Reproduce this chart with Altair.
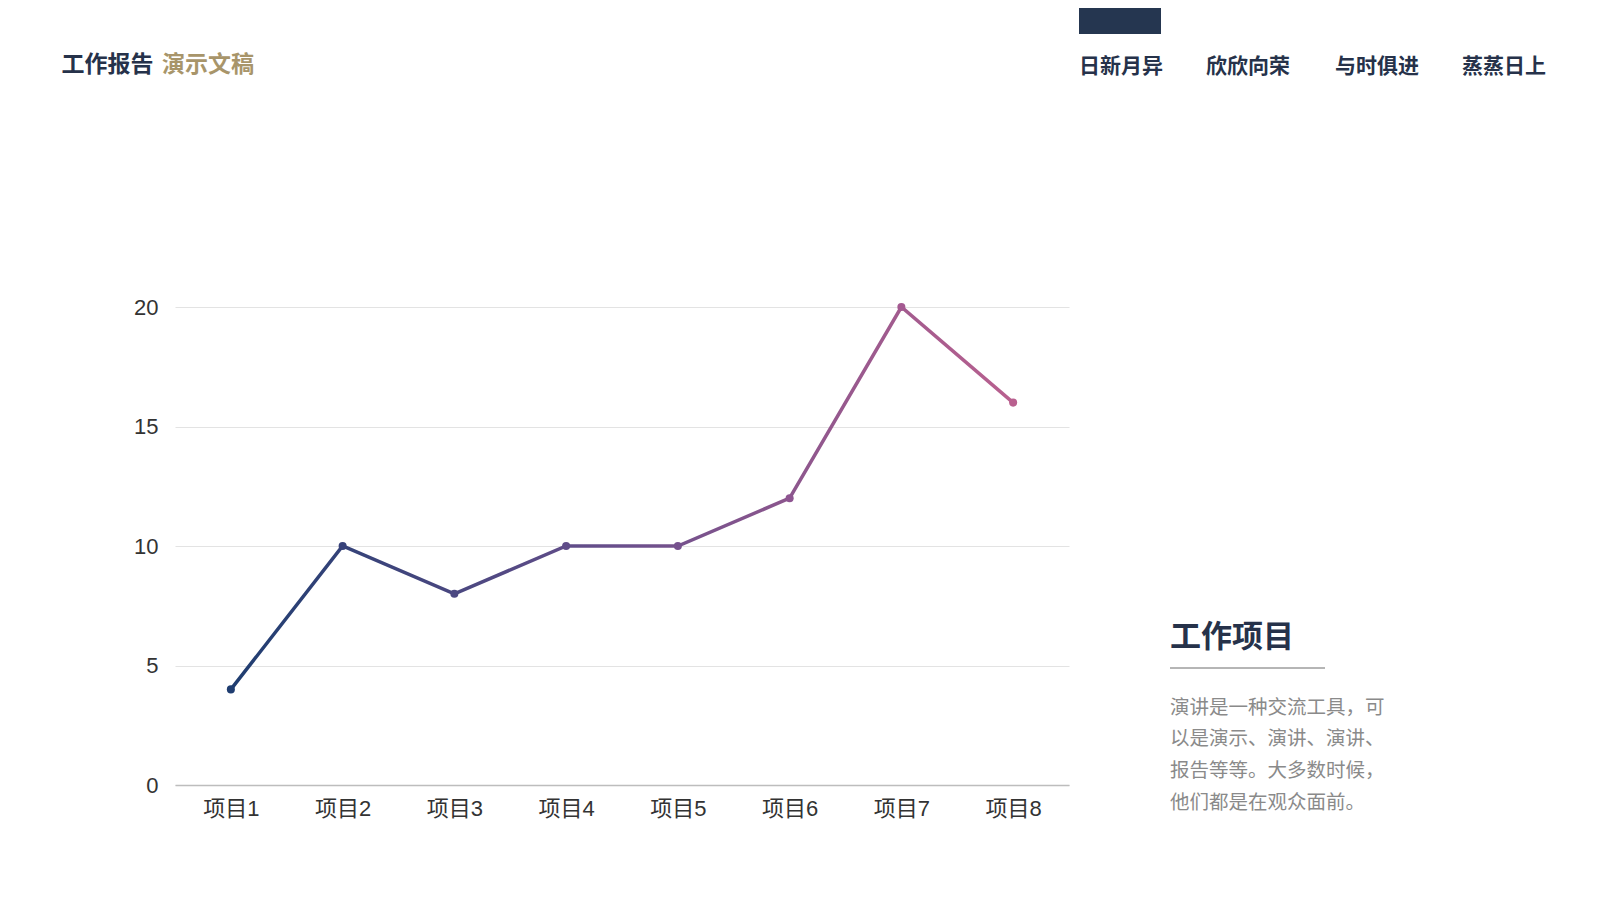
import altair as alt
import pandas as pd

# ---- data ----
categories = ["项目1", "项目2", "项目3", "项目4", "项目5", "项目6", "项目7", "项目8"]
values = [4, 10, 8, 10, 10, 12, 20, 16]
y_ticks = [0, 5, 10, 15, 20]

title_dark = "工作报告"
title_gold = "演示文稿"
nav_items = ["日新月异", "欣欣向荣", "与时俱进", "蒸蒸日上"]
side_heading = "工作项目"
side_lines = ["演讲是一种交流工具，可", "以是演示、演讲、演讲、", "报告等等。大多数时候，", "他们都是在观众面前。"]

# ---- styles ----
C_START, C_MID, C_END = "#1f3d70", "#6a4f8c", "#b9608f"
DARK = "#26324a"
GOLD = "#a8956a"
CJK = "Noto Sans CJK SC"
LATIN = "Liberation Sans, Noto Sans CJK SC"

df = pd.DataFrame({"cat": categories, "val": values, "idx": list(range(1, len(values) + 1))})

x_enc = alt.X("cat:N", sort=categories, title=None,
              scale=alt.Scale(paddingInner=1, paddingOuter=0.5),
              axis=alt.Axis(labelAngle=0, ticks=False, domainColor="#bdbdbd", domainWidth=1.5,
                            labelFontSize=22, labelColor="#333333", labelFont=LATIN,
                            labelPadding=13, grid=False))
y_enc = alt.Y("val:Q", title=None,
              scale=alt.Scale(domain=[0, 20], nice=False),
              axis=alt.Axis(values=y_ticks, domain=False, ticks=False, labelFontSize=22,
                            labelColor="#333333", labelFont=LATIN, labelPadding=17,
                            gridColor="#e3e3e3", gridWidth=1))

gradient = {
    "gradient": "linear", "x1": 0, "x2": 1, "y1": 0, "y2": 0,
    "stops": [{"offset": 0, "color": C_START}, {"offset": 0.5, "color": C_MID},
              {"offset": 1, "color": C_END}],
}

line = alt.Chart(df).mark_line(strokeWidth=3.5, color=gradient).encode(x=x_enc, y=y_enc)
pts = alt.Chart(df).mark_circle(size=65, opacity=1).encode(
    x=alt.X("cat:N", sort=categories),
    y="val:Q",
    color=alt.Color("idx:Q", scale=alt.Scale(domain=[1, 4.5, 8], range=[C_START, C_MID, C_END]),
                    legend=None),
)


def txt(s, x, y, size, color, weight="normal", font=CJK):
    return alt.Chart(pd.DataFrame({"t": [s]})).mark_text(
        align="left", baseline="middle", fontSize=size, color=color, fontWeight=weight, font=font
    ).encode(text="t:N", x=alt.value(x), y=alt.value(y))


layers = [line, pts]
layers.append(txt(title_dark, -113.5, -242, 23, DARK, "bold"))
layers.append(txt(title_gold, -13, -242, 23, GOLD, "bold"))

nav_rect = alt.Chart(pd.DataFrame({"a": [0]})).mark_rect(color="#253650").encode(
    x=alt.value(904), x2=alt.value(986), y=alt.value(-310), y2=alt.value(-273))
layers.append(nav_rect)
for item, xpos in zip(nav_items, [904, 1031, 1160, 1287]):
    layers.append(txt(item, xpos, -240, 21, DARK, "bold"))

layers.append(txt(side_heading, 995, 331, 31, DARK, "bold"))
underline = alt.Chart(pd.DataFrame({"a": [0]})).mark_rule(color="#6d6d6d", strokeWidth=1).encode(
    x=alt.value(995), x2=alt.value(1150), y=alt.value(361))
layers.append(underline)
for i, ln in enumerate(side_lines):
    layers.append(txt(ln, 995, 400.5 + 31.7 * i, 19.5, "#8a8a8a"))

chart = alt.layer(*layers).properties(
    width=894, height=478,
    background="white",
    autosize=alt.AutoSizeParams(type="none"),
    padding={"left": 167, "top": 299, "right": 523, "bottom": 107},
).configure_view(stroke=None)

chart.save("out.html", embed_options={"renderer": "svg", "actions": False})
